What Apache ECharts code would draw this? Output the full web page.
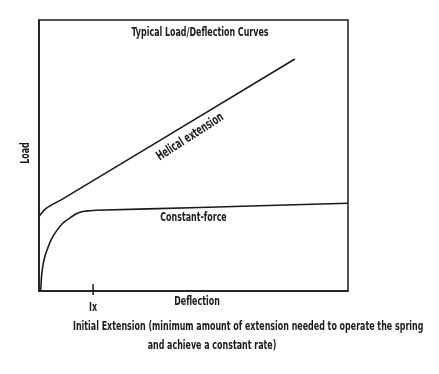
<!DOCTYPE html>
<html><head><meta charset="utf-8">
<script src="https://cdn.jsdelivr.net/npm/echarts@6/dist/echarts.min.js"></script>
<style>html,body{margin:0;padding:0;background:#fff}#c{width:439px;height:374px}</style>
</head><body><div id="c"></div>
<script>
const helicalX = [0, 2.3, 7.7, 82.8];
const helicalY = [27.5, 30.5, 34.0, 85.6];
const constX = [0, 0.55, 0.74, 0.97, 1.39, 2.04, 2.82, 3.88, 5.50, 7.67, 9.81, 11.97, 14.14, 16.28, 18.45, 52.1, 100];
const constY = [0, 0.6, 4.1, 7.1, 10.2, 13.3, 15.8, 18.8, 21.9, 25.0, 26.8, 28.4, 29.3, 29.6, 29.8, 30.8, 32.4];
const ixValue = 17.5;
const ixTickY = [-1.5, 2.6];
const titleText = 'Typical Load/Deflection Curves';
const xName = 'Deflection';
const yName = 'Load';
const ixLabel = 'Ix';
const noteLine1 = 'Initial Extension (minimum amount of extension needed to operate the spring';
const noteLine2 = 'and achieve a constant rate)';
const helicalLabel = 'Helical extension';
const constLabel = 'Constant-force';
const helicalLabelPos = [48.9, 56.8];
const constLabelPos = [50.0, 26.9];

const FONT_FAMILY = '"DejaVu Sans Condensed","Liberation Sans Narrow",sans-serif';
const FONT = 'bold 13px ' + FONT_FAMILY;
const INK = '#1a1a1a';
const zip = (a, b) => a.map((v, i) => [v, b[i]]);

// horizontal squeeze so the condensed reference lettering widths match
const cv = document.createElement('canvas').getContext('2d');
cv.font = FONT;
const SX = 137 / cv.measureText(titleText).width;

const chart = echarts.init(document.getElementById('c'));
chart.setOption({
  animation: false,
  backgroundColor: '#fff',
  grid: { left: 39, top: 20, width: 309, height: 271, show: true, borderColor: INK, borderWidth: 1.5, backgroundColor: 'transparent' },
  xAxis: {
    type: 'value', min: 0, max: 100,
    axisLine: { lineStyle: { color: INK, width: 1.5 } },
    axisTick: { show: false }, splitLine: { show: false }, axisLabel: { show: false }
  },
  yAxis: {
    type: 'value', min: 0, max: 100,
    axisLine: { lineStyle: { color: INK, width: 1.5 } },
    axisTick: { show: false }, splitLine: { show: false }, axisLabel: { show: false }
  },
  series: [
    { type: 'line', data: zip(helicalX, helicalY), smooth: 0.3, showSymbol: false,
      lineStyle: { color: INK, width: 1.6 } },
    { type: 'line', data: zip(constX, constY), smooth: 0.25, showSymbol: false,
      lineStyle: { color: INK, width: 1.6 } },
    { type: 'line', data: zip([ixValue, ixValue], ixTickY), clip: false, showSymbol: false,
      lineStyle: { color: INK, width: 1.5 } }
  ]
});

const px = p => chart.convertToPixel({ gridIndex: 0 }, p);
const hp = px(helicalLabelPos);
const cp = px(constLabelPos);
const ip = px([ixValue, 0]);
function txt(text, x, y, align, rot) {
  return { type: 'text', x: x, y: y, rotation: rot || 0, scaleX: SX, scaleY: 1,
    style: { text: text, font: FONT, fill: INK, textAlign: align || 'center', textVerticalAlign: 'middle' } };
}
chart.setOption({
  graphic: [
    txt(titleText, 200, 33),
    txt(helicalLabel, hp[0], hp[1], 'center', 33 * Math.PI / 180),
    txt(constLabel, cp[0], cp[1]),
    txt(ixLabel, ip[0], 308),
    txt(xName, 197, 302),
    { type: 'text', x: 26, y: 153, rotation: Math.PI / 2, scaleX: SX, scaleY: 1,
      style: { text: yName, font: FONT, fill: INK, textAlign: 'center', textVerticalAlign: 'middle' } },
    txt(noteLine1, 73, 327, 'left'),
    txt(noteLine2, 212, 346)
  ]
});
</script>
</body></html>
